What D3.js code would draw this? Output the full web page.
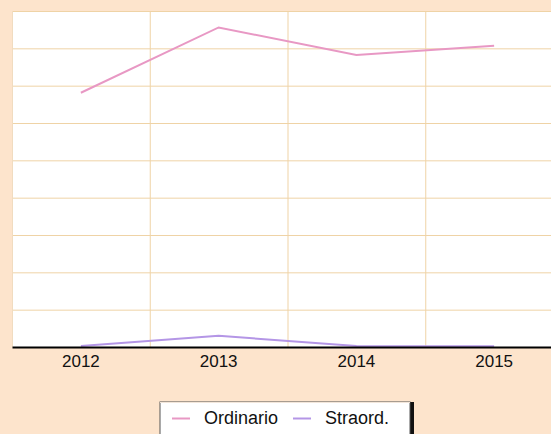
<!DOCTYPE html>
<html>
<head>
<meta charset="utf-8">
<script src="https://cdn.jsdelivr.net/npm/d3@7"></script>
<style>
  html, body { margin: 0; padding: 0; background: #fde4cc; overflow: hidden; }
  svg { display: block; font-family: "Liberation Sans", Arial, sans-serif; }
</style>
</head>
<body>
<svg id="chart" width="551" height="434"></svg>
<script>
const years = ['2012', '2013', '2014', '2015'];
const ordinario = [6.81, 8.56, 7.82, 8.07];
const straord = [0.03, 0.30, 0.03, 0.02];
const seriesNames = ['Ordinario', 'Straord.'];
const seriesColors = ['#e898c4', '#b496e6'];

const svg = d3.select('#chart');
const plot = { left: 12, top: 11, right: 563, bottom: 347 };

const x = d3.scaleBand().domain(years).range([plot.left, plot.right]);
const y = d3.scaleLinear().domain([0, 9]).range([plot.bottom, plot.top]);

// plot background
svg.append('rect')
    .attr('x', plot.left).attr('y', plot.top)
    .attr('width', plot.right - plot.left).attr('height', plot.bottom - plot.top)
    .attr('fill', '#ffffff');

// horizontal grid
svg.append('g')
    .selectAll('line')
    .data(d3.range(1, 10))
    .join('line')
    .attr('x1', plot.left).attr('x2', plot.right)
    .attr('y1', d => y(d) + 0.5).attr('y2', d => y(d) + 0.5)
    .attr('stroke', '#efd3a6').attr('stroke-width', 1);

// vertical grid between categories
svg.append('g')
    .selectAll('line')
    .data(years.slice(1))
    .join('line')
    .attr('x1', d => x(d) + 0.5).attr('x2', d => x(d) + 0.5)
    .attr('y1', plot.top).attr('y2', plot.bottom)
    .attr('stroke', '#efd3a6').attr('stroke-width', 1);

// left edge of plot
svg.append('line')
    .attr('x1', plot.left + 0.5).attr('x2', plot.left + 0.5)
    .attr('y1', plot.top).attr('y2', plot.bottom)
    .attr('stroke', '#f1dcc0');

const line = d3.line()
    .x((d, i) => x(years[i]) + x.bandwidth() / 2)
    .y(d => y(d));

[ordinario, straord].forEach((vals, i) => {
    svg.append('path')
        .datum(vals)
        .attr('d', line)
        .attr('fill', 'none')
        .attr('stroke', seriesColors[i])
        .attr('stroke-width', 2);
});

// x axis
const xAxis = svg.append('g')
    .attr('transform', `translate(0,${plot.bottom})`)
    .call(d3.axisBottom(x).tickSize(0).tickPadding(8));
xAxis.select('.domain').attr('stroke', '#000').attr('stroke-width', 2);
xAxis.selectAll('text')
    .attr('font-size', 17)
    .attr('fill', '#111')
    .attr('font-family', '"Liberation Sans", Arial, sans-serif');

// legend
const legend = svg.append('g').attr('transform', 'translate(160,402)');
legend.append('rect')
    .attr('x', 2).attr('y', 0).attr('width', 252).attr('height', 40)
    .attr('fill', '#111');
legend.append('rect')
    .attr('x', 0).attr('y', 0).attr('width', 250).attr('height', 40)
    .attr('fill', '#ffffff').attr('stroke', '#555').attr('stroke-width', 1);
legend.append('line')
    .attr('x1', 0).attr('x2', 250).attr('y1', 0.5).attr('y2', 0.5)
    .attr('stroke', '#f3e6da');

const items = [
    { name: seriesNames[0], color: seriesColors[0], x: 12 },
    { name: seriesNames[1], color: seriesColors[1], x: 133 }
];
items.forEach(it => {
    legend.append('line')
        .attr('x1', it.x).attr('x2', it.x + 18)
        .attr('y1', 16.5).attr('y2', 16.5)
        .attr('stroke', it.color).attr('stroke-width', 2);
    legend.append('text')
        .attr('x', it.x + 32).attr('y', 22)
        .attr('font-size', 18).attr('fill', '#111')
        .text(it.name);
});
</script>
</body>
</html>
